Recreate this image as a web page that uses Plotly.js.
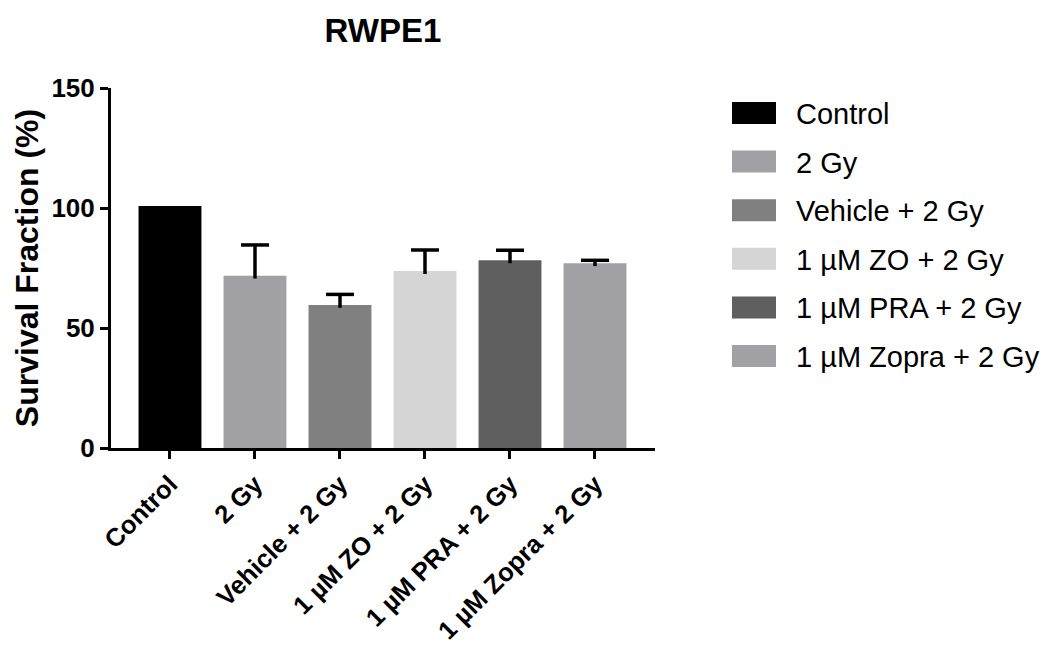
<!DOCTYPE html>
<html>
<head>
<meta charset="utf-8">
<script src="https://cdn.plot.ly/plotly-3.0.1.min.js"></script>
<style>html,body{margin:0;padding:0;background:#fff;}#chart{width:1045px;height:646px;}</style>
</head>
<body>
<div id="chart"></div>
<script>
const categories = ["Control", "2 Gy", "Vehicle + 2 Gy", "1 µM ZO + 2 Gy", "1 µM PRA + 2 Gy", "1 µM Zopra + 2 Gy"];
const survival = [100.8, 71.8, 59.6, 73.7, 78.2, 77.0];
const errorUpper = [null, 12.8, 4.4, 8.8, 4.2, 1.2];
const barColors = ["#000000", "#a1a1a5", "#808080", "#d5d5d5", "#5f5f5f", "#a1a1a5"];
const yTicks = [0, 50, 100, 150];

const FONT = "Liberation Sans, Arial, Helvetica, sans-serif";

const bars = {
  type: "bar",
  x: categories,
  y: survival,
  marker: { color: barColors, line: { width: 0 } },
  width: 0.74,
  error_y: {
    type: "data",
    symmetric: false,
    array: errorUpper,
    arrayminus: errorUpper.map(e => (e == null ? null : 1.2)),
    color: "#000",
    thickness: 3.5,
    width: 0
  },
  showlegend: false,
  hoverinfo: "x+y"
};

// caps of the one-sided error bars
const caps = {
  type: "scatter",
  mode: "markers",
  x: categories,
  y: survival.map((v, i) => (errorUpper[i] == null ? null : v + errorUpper[i])),
  marker: { symbol: "line-ew", size: 20, color: "#000", line: { width: 3.5, color: "#000" } },
  cliponaxis: false,
  showlegend: false,
  hoverinfo: "skip"
};

// custom legend (swatches + labels) in paper coordinates
const plotLeft = 111, plotRight = 655, plotTop = 88, plotBottom = 448;
const pw = plotRight - plotLeft, ph = plotBottom - plotTop;
const px2x = p => (p - plotLeft) / pw;
const py2y = p => (plotBottom - p) / ph;
const shapes = [], annotations = [];
categories.forEach((c, i) => {
  const cy = 113 + i * 48.6;
  shapes.push({
    type: "rect", xref: "paper", yref: "paper",
    x0: px2x(732), x1: px2x(776), y0: py2y(cy + 11), y1: py2y(cy - 11),
    fillcolor: barColors[i], line: { width: 0 }
  });
  annotations.push({
    xref: "paper", yref: "paper", x: px2x(794), y: py2y(cy + 1),
    xanchor: "left", yanchor: "middle", showarrow: false,
    text: c, font: { family: FONT, size: 29, color: "#000" }
  });
});

const layout = {
  width: 1045, height: 646,
  margin: { l: plotLeft, r: 1045 - plotRight, t: plotTop, b: 646 - plotBottom, pad: 0 },
  paper_bgcolor: "#fff", plot_bgcolor: "#fff",
  title: {
    text: "<b>RWPE1</b>",
    x: (plotLeft + plotRight) / 2 / 1045, xanchor: "center",
    y: 1 - 30 / 646, yanchor: "middle",
    font: { family: FONT, size: 33, color: "#000" }
  },
  xaxis: {
    type: "category",
    range: [-0.694, 5.706],
    showline: true, linewidth: 3, linecolor: "#000",
    ticks: "outside", ticklen: 8, tickwidth: 3, tickcolor: "#000",
    tickangle: -45,
    tickfont: { family: FONT, size: 25.5, color: "#000", weight: "bold" },
    showgrid: false, zeroline: false, fixedrange: true
  },
  yaxis: {
    range: [0, 150],
    tickvals: yTicks, ticktext: yTicks.map(String),
    showline: true, linewidth: 3, linecolor: "#000",
    ticks: "outside", ticklen: 8, tickwidth: 3, tickcolor: "#000",
    tickfont: { family: FONT, size: 26, color: "#000", weight: "bold" },
    title: { text: "<b>Survival Fraction (%)</b>", standoff: 4, font: { family: FONT, size: 32, color: "#000" } },
    showgrid: false, zeroline: false, fixedrange: true
  },
  shapes: shapes,
  annotations: annotations,
  bargap: 0.26
};

Plotly.newPlot("chart", [bars, caps], layout, { displayModeBar: false, staticPlot: true });
</script>
</body>
</html>
